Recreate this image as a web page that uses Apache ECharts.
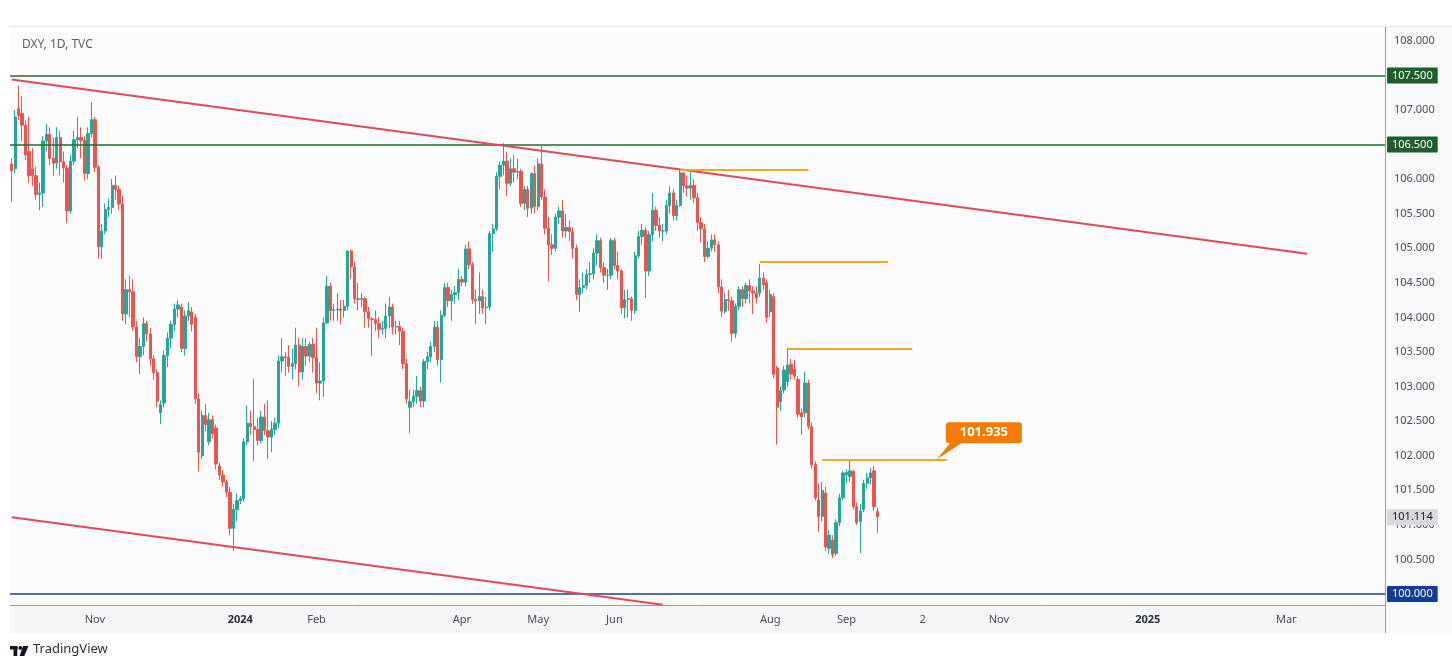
<!DOCTYPE html>
<html>
<head>
<meta charset="utf-8">
<script src="https://cdn.jsdelivr.net/npm/echarts@6/dist/echarts.min.js"></script>
<style>
html,body{margin:0;padding:0;background:#ffffff;}
#chart{width:1452px;height:669px;}
</style>
</head>
<body>
<div id="chart"></div>
<script>
// ---- DATA: daily candles [open, high, low, close] ----
const sep2023 = [[106.22,106.30,105.67,106.12]];
const oct2023 = [
[106.15,107.00,106.08,106.90],[107.02,107.35,106.85,106.92],[106.95,107.20,106.55,106.78],[106.78,106.85,106.28,106.35],
[106.40,106.90,105.95,106.05],[106.15,106.45,105.90,106.05],[106.05,106.18,105.70,105.78],[105.78,105.95,105.55,105.80],
[105.80,106.62,105.60,106.55],[106.55,106.80,106.40,106.65],[106.65,106.75,106.20,106.30],[106.30,106.60,106.05,106.23],
[106.23,106.75,106.15,106.60],[106.60,106.70,106.05,106.25],[106.25,106.40,105.95,106.16],[106.16,106.20,105.36,105.54],
[105.54,106.35,105.50,106.26],[106.26,106.70,106.20,106.57],[106.57,106.90,106.45,106.60],[106.60,106.75,106.30,106.56],
[106.56,106.62,105.98,106.08],[106.08,106.75,106.00,106.66]];
const nov2023 = [
[106.66,107.11,106.60,106.86],[106.86,106.90,106.10,106.17],[106.17,106.20,104.85,105.02],[105.02,105.35,104.84,105.25],
[105.25,105.65,105.20,105.56],[105.56,105.72,105.45,105.59],[105.59,106.00,105.50,105.91],[105.91,106.05,105.70,105.85],
[105.85,105.90,105.55,105.64],[105.64,105.76,103.95,104.05],[104.05,104.55,103.90,104.40],[104.40,104.60,104.00,104.37],
[104.37,104.55,103.80,103.86],[103.86,103.95,103.35,103.43],[103.43,103.70,103.18,103.58],[103.58,104.00,103.45,103.91],
[103.91,103.95,103.65,103.76],[103.76,103.85,103.30,103.40],[103.40,103.45,103.10,103.20],[103.20,103.25,102.70,102.79],
[102.62,102.80,102.46,102.74],[102.76,103.52,102.70,103.45]];
const dec2023 = [
[103.45,103.78,103.28,103.70],[103.70,103.95,103.55,103.90],[103.90,104.20,103.80,104.12],[104.12,104.25,104.00,104.18],
[104.15,104.20,103.50,103.55],[103.55,104.10,103.45,104.02],[104.02,104.22,103.95,104.10],[104.08,104.15,103.80,103.90],
[104.00,104.05,102.75,102.82],[102.82,102.90,101.77,102.05],[102.00,102.65,101.95,102.58],[102.58,102.75,102.35,102.45],
[102.20,102.62,102.15,102.52],[102.52,102.58,102.25,102.32],[102.40,102.45,101.80,101.88],[101.85,101.90,101.65,101.72],
[101.72,101.78,101.55,101.62],[101.62,101.65,101.40,101.47],[101.47,101.55,100.85,100.95],[100.95,101.30,100.62,101.22],
[101.22,101.45,101.05,101.35]];
const jan2024 = [
[101.35,101.42,101.30,101.38],[101.38,102.25,101.33,102.20],[102.20,102.73,102.15,102.47],[102.47,102.65,102.30,102.42],
[102.42,103.11,101.92,102.38],[102.38,102.55,102.15,102.22],[102.22,102.65,102.18,102.56],[102.56,102.75,102.30,102.36],
[102.36,102.80,101.95,102.27],[102.27,102.50,102.05,102.38],[102.38,102.55,102.30,102.47],[102.47,103.45,102.40,103.37],
[103.37,103.70,103.20,103.43],[103.43,103.50,103.15,103.42],[103.42,103.60,103.20,103.29],[103.29,103.55,103.10,103.33],
[103.33,103.85,103.25,103.60],[103.60,103.70,103.00,103.21],[103.21,103.70,103.10,103.58],[103.58,103.70,103.30,103.44],
[103.44,103.65,103.35,103.61],[103.61,103.70,103.20,103.42],[103.42,103.85,102.90,103.05]];
const feb2024 = [
[103.05,103.35,102.80,103.08],[103.08,104.00,102.85,103.92],[103.92,104.60,103.90,104.45],[104.45,104.50,103.95,104.10],
[104.10,104.20,103.95,104.11],[104.11,104.35,103.95,104.12],[104.12,104.25,103.90,104.10],[104.10,104.25,104.00,104.16],
[104.16,104.97,104.10,104.96],[104.96,104.98,104.55,104.73],[104.73,104.80,104.20,104.27],[104.27,104.50,104.10,104.26],
[104.26,104.35,104.15,104.27],[104.27,104.30,103.85,104.08],[104.08,104.15,103.85,103.98],[103.98,104.00,103.44,103.97],
[103.97,104.10,103.80,103.91],[103.91,104.00,103.70,103.83],[103.83,103.95,103.75,103.84],[103.84,104.20,103.70,104.02],
[104.02,104.30,103.85,104.15]];
const mar2024 = [
[104.15,104.20,103.75,103.86],[103.86,103.95,103.75,103.87],[103.87,103.95,103.60,103.80],[103.80,103.85,103.25,103.33],
[103.33,103.40,102.75,102.82],[102.70,102.95,102.33,102.78],[102.78,102.95,102.70,102.86],[102.86,103.15,102.75,102.94],
[102.94,103.00,102.70,102.79],[102.79,103.40,102.70,103.36],[103.36,103.50,103.25,103.43],[103.43,103.65,103.35,103.58],
[103.58,103.95,103.50,103.86],[103.86,103.95,103.30,103.39],[103.39,104.10,103.06,104.03],[104.03,104.50,104.00,104.43],
[104.43,104.50,104.15,104.24],[104.24,104.40,103.95,104.33],[104.33,104.45,104.20,104.36],[104.36,104.70,104.25,104.55],
[104.55,104.60,104.45,104.51]];
const apr2024 = [
[104.51,105.05,104.45,104.99],[104.99,105.10,104.70,104.76],[104.76,104.80,104.20,104.26],[104.26,104.40,103.90,104.24],
[104.24,104.65,104.05,104.30],[104.30,104.40,104.05,104.14],[104.14,104.30,103.90,104.15],[104.15,105.25,104.10,105.21],
[105.21,105.35,104.95,105.28],[105.28,106.10,105.25,106.04],[106.04,106.25,105.85,106.20],[106.20,106.52,106.05,106.26],
[106.26,106.40,105.75,105.94],[105.94,106.30,105.90,106.15],[106.15,106.35,105.95,106.10],[106.10,106.30,106.00,106.11],
[106.11,106.15,105.60,105.65],[105.65,105.90,105.55,105.85],[105.85,105.90,105.45,105.58],[105.58,106.10,105.50,106.08],
[106.08,106.20,105.50,105.60],[105.60,106.30,105.55,106.22]];
const may2024 = [
[106.22,106.49,105.70,105.74],[105.74,105.85,105.20,105.29],[105.29,105.45,104.52,105.05],[105.05,105.20,104.90,105.00],
[105.00,105.50,104.95,105.45],[105.45,105.60,105.35,105.54],[105.54,105.70,105.15,105.25],[105.25,105.50,105.15,105.30],
[105.30,105.40,105.10,105.24],[105.24,105.30,104.85,105.00],[105.00,105.05,104.25,104.33],[104.33,104.55,104.08,104.43],
[104.43,104.65,104.35,104.46],[104.46,104.70,104.40,104.62],[104.62,104.80,104.50,104.63],[104.63,105.00,104.55,104.93],
[104.93,105.20,104.75,105.11],[105.11,105.15,104.65,104.72],[104.72,104.80,104.50,104.61],[104.61,104.70,104.40,104.61],
[104.61,105.15,104.55,105.11],[105.11,105.15,104.70,104.75],[104.75,104.95,104.55,104.67]];
const jun2024 = [
[104.67,104.70,104.05,104.14],[104.14,104.40,103.99,104.26],[104.26,104.40,104.00,104.27],[104.27,104.30,103.95,104.10],
[104.10,104.95,104.05,104.89],[104.89,105.25,104.85,105.17],[105.17,105.35,105.05,105.26],[105.26,105.30,104.28,104.67],
[104.67,105.25,104.60,105.20],[105.20,105.80,105.10,105.55],[105.55,105.60,105.25,105.33],[105.33,105.45,105.15,105.25],
[105.25,105.35,105.10,105.25],[105.25,105.70,105.20,105.62],[105.62,105.90,105.50,105.80],[105.80,105.85,105.40,105.47],
[105.47,105.70,105.40,105.62],[105.62,106.13,105.60,106.09],[106.09,106.10,105.80,105.90],[105.90,106.05,105.75,105.87]];
const jul2024 = [
[105.87,106.10,105.70,105.91],[105.91,106.00,105.65,105.73],[105.73,105.80,105.25,105.37],[105.37,105.45,105.08,105.28],
[105.28,105.35,104.80,104.88],[104.88,105.10,104.85,105.00],[105.00,105.20,104.95,105.12],[105.12,105.20,104.95,105.05],
[105.05,105.10,104.35,104.44],[104.44,104.55,104.00,104.09],[104.09,104.35,104.05,104.26],[104.26,104.40,104.10,104.24],
[104.24,104.30,103.65,103.77],[103.77,104.20,103.70,104.16],[104.16,104.45,104.10,104.40],[104.40,104.45,104.15,104.27],
[104.27,104.50,104.20,104.46],[104.46,104.55,104.20,104.38],[104.38,104.45,104.05,104.35],[104.35,104.45,104.20,104.28],
[104.35,104.77,104.30,104.57],[104.57,104.65,104.40,104.47],[104.50,104.55,103.92,104.00]];
const aug2024 = [
[104.08,104.40,104.00,104.33],[104.30,104.35,103.12,103.17],[103.27,103.30,102.16,102.70],[102.78,103.00,102.65,102.94],
[102.95,103.30,102.90,103.24],[103.07,103.56,103.00,103.31],[103.32,103.40,103.10,103.18],[103.25,103.38,103.10,103.15],
[103.10,103.15,102.55,102.60],[102.62,102.68,102.30,102.56],[102.62,103.21,102.55,103.05],[103.05,103.10,102.38,102.42],
[102.42,102.48,101.82,101.87],[101.87,101.92,101.35,101.39],[101.36,101.60,100.90,101.12],[101.12,101.62,101.05,101.50],
[101.46,101.55,100.62,100.68],[100.66,100.92,100.58,100.85],[100.78,100.85,100.52,100.57],[100.59,101.08,100.55,101.03],
[101.03,101.45,100.98,101.39],[101.39,101.78,101.35,101.75]];
const sep2024 = [
[101.72,101.80,101.60,101.76],[101.70,101.935,101.62,101.78],[101.77,101.80,101.22,101.26],[101.26,101.32,101.00,101.03],
[101.05,101.30,100.59,101.20],[101.22,101.65,101.18,101.60],[101.60,101.75,101.52,101.68],[101.68,101.82,101.58,101.75],
[101.78,101.85,101.20,101.26],[101.19,101.25,100.88,101.114]];

const firstDate = '2023-09-29';
const totalSlots = 397;                 // traded days + empty future space
const yTicks = [100,100.5,101,101.5,102,102.5,103,103.5,104,104.5,105,105.5,106,106.5,107,107.5,108];
const xTickLabels = [[24,'Nov'],[66,'2024'],[88,'Feb'],[130,'Apr'],[152,'May'],[174,'Jun'],[219,'Aug'],[241,'Sep'],[263,'2'],[285,'Nov'],[328,'2025'],[368,'Mar']];
const greenLevels = [107.5, 106.5];
const blueLevel = 100.0;
const lastPrice = 101.114;
const upperTrend = [[0,107.44],[374,104.92]];
const lowerTrend = [[0,101.11],[188,99.845]];
const orangeLevels = [[193,230,106.13],[216,253,104.80],[224,260,103.54],[234,270,101.935]];
const callout = {index: 270, value: 101.935, text: '101.935'};
const title = 'DXY, 1D, TVC';

// ---- build ----
const ohlc = [].concat(sep2023, oct2023, nov2023, dec2023, jan2024, feb2024, mar2024, apr2024, may2024, jun2024, jul2024, aug2024, sep2024);
const categories = [];
{
  const d = new Date(firstDate + 'T00:00:00Z');
  while (categories.length < totalSlots) {
    const wd = d.getUTCDay();
    if (wd !== 0 && wd !== 6) categories.push(d.toISOString().slice(0, 10));
    d.setUTCDate(d.getUTCDate() + 1);
  }
}
const candleData = ohlc.map(r => [r[0], r[3], r[2], r[1]]);
const labelMap = {};
xTickLabels.forEach(([i, t]) => { labelMap[i] = t; });

const FONT = 'Noto Sans, Open Sans, sans-serif';
const UP = '#26a69a', DOWN = '#ef5350';

function levelLine(value, color, bg, fg, width) {
  return {
    yAxis: value,
    lineStyle: { color: color, width: width, type: 'solid' },
    label: {
      show: true, position: 'end', distance: 2, formatter: value.toFixed(3),
      backgroundColor: bg, color: fg, fontSize: 11, fontFamily: FONT,
      padding: [2, 5, 2, 5], lineHeight: 12, borderRadius: 1
    }
  };
}
const markData = [];
greenLevels.forEach(v => markData.push(levelLine(v, '#226b33', '#1d5e2a', '#ffffff', 1.6)));
markData.push(levelLine(blueLevel, '#1b3f96', '#133b96', '#ffffff', 1.6));
markData.push(levelLine(lastPrice, 'rgba(0,0,0,0)', '#d7d9dd', '#222222', 0));
markData.push([
  { coord: [categories[upperTrend[0][0]], upperTrend[0][1]], lineStyle: { color: '#e3485d', width: 2, type: 'solid' }, label: { show: false } },
  { coord: [categories[upperTrend[1][0]], upperTrend[1][1]] }
]);
markData.push([
  { coord: [categories[lowerTrend[0][0]], lowerTrend[0][1]], lineStyle: { color: '#e3485d', width: 2, type: 'solid' }, label: { show: false } },
  { coord: [categories[lowerTrend[1][0]], lowerTrend[1][1]] }
]);
orangeLevels.forEach(([a, b, v]) => {
  markData.push([
    { coord: [categories[a], v], lineStyle: { color: '#f2a623', width: 2, type: 'solid' }, label: { show: false } },
    { coord: [categories[b], v] }
  ]);
});

const chart = echarts.init(document.getElementById('chart'), null, { renderer: 'canvas' });
const GRID = { left: 10, right: 67, top: 27, bottom: 64 };
chart.setOption({
  animation: false,
  backgroundColor: '#ffffff',
  title: {
    text: title, left: 17, top: 34,
    textStyle: { fontSize: 12, fontWeight: 'normal', color: '#5d606b', fontFamily: FONT }
  },
  grid: Object.assign({ show: true, backgroundColor: '#fcfcfd', borderWidth: 0 }, GRID),
  xAxis: {
    type: 'category', data: categories, boundaryGap: true,
    axisLine: { show: true, lineStyle: { color: '#9a9da5', width: 1 } },
    axisTick: { show: false }, splitLine: { show: false },
    axisLabel: {
      interval: (i) => labelMap[i] !== undefined,
      formatter: (v, i) => {
        const t = labelMap[i];
        if (t === undefined) return '';
        return /^\d{4}$/.test(t) ? '{b|' + t + '}' : t;
      },
      color: '#4a4d55', fontSize: 11, fontFamily: FONT, margin: 9,
      rich: { b: { fontWeight: 'bold', color: '#2a2e39', fontSize: 11, fontFamily: FONT } }
    }
  },
  yAxis: {
    type: 'value', position: 'right', min: 99.84, max: 108.2,
    axisLine: { show: true, lineStyle: { color: '#9a9da5', width: 1 } },
    axisTick: { show: false }, splitLine: { show: false },
    axisLabel: {
      customValues: yTicks,
      formatter: v => v.toFixed(3),
      color: '#4a4d55', fontSize: 11, fontFamily: FONT, margin: 9
    }
  },
  series: [{
    type: 'candlestick',
    data: candleData,
    barWidth: 2.8,
    itemStyle: { color: UP, color0: DOWN, borderColor: UP, borderColor0: DOWN, borderWidth: 1 },
    markLine: { silent: true, symbol: ['none', 'none'], animation: false, data: markData }
  }]
});

// decorations: axis strips, footer, callout
const pt = chart.convertToPixel({ seriesIndex: 0 }, [categories[callout.index], callout.value]);
const W = 1452, H = 669;
const plotRight = W - GRID.right, plotBottom = H - GRID.bottom;
chart.setOption({
  graphic: [
    { type: 'rect', id: 'xstrip', z: -10, silent: true, shape: { x: GRID.left, y: plotBottom, width: plotRight - GRID.left, height: 28 }, style: { fill: '#f5f6f8' } },
    { type: 'rect', id: 'ystrip', z: -10, silent: true, shape: { x: plotRight, y: GRID.top, width: W - plotRight, height: plotBottom - GRID.top + 28 }, style: { fill: '#f8f9fa' } },
    { type: 'line', id: 'yext', z: 5, silent: true, shape: { x1: plotRight + 0.5, y1: plotBottom, x2: plotRight + 0.5, y2: plotBottom + 28 }, style: { stroke: '#9a9da5', lineWidth: 1 } },
    { type: 'line', id: 'topb', z: 5, silent: true, shape: { x1: GRID.left, y1: GRID.top - 0.5, x2: W, y2: GRID.top - 0.5 }, style: { stroke: '#e6e7ea', lineWidth: 1 } },
    // TradingView footer logo + text
    { type: 'rect', id: 'lg1', silent: true, shape: { x: 10, y: 646, width: 7.5, height: 3.5 }, style: { fill: '#131722' } },
    { type: 'rect', id: 'lg2', silent: true, shape: { x: 13.5, y: 646, width: 3.8, height: 10 }, style: { fill: '#131722' } },
    { type: 'circle', id: 'lg3', silent: true, shape: { cx: 20.3, cy: 647.9, r: 1.9 }, style: { fill: '#131722' } },
    { type: 'polygon', id: 'lg4', silent: true, shape: { points: [[23, 646], [28.5, 646], [24.2, 656], [19.6, 656]] }, style: { fill: '#131722' } },
    { type: 'text', id: 'tvtext', silent: true, left: 33, top: 643, style: { text: 'TradingView', fill: '#2a2e39', font: '13px ' + FONT } },
    // orange callout
    { type: 'polygon', id: 'cpoint', z: 20, silent: true, shape: { points: [[pt[0] - 10, pt[1] - 1], [pt[0] + 4, pt[1] - 18], [pt[0] + 16, pt[1] - 18]] }, style: { fill: '#f57c00' } },
    { type: 'rect', id: 'cbox', z: 20, silent: true, shape: { x: pt[0] - 1, y: pt[1] - 38, width: 76, height: 21, r: 3 }, style: { fill: '#f57c00' } },
    { type: 'text', id: 'ctext', z: 21, silent: true, style: { x: pt[0] + 37, y: pt[1] - 27.5, text: callout.text, fill: '#ffffff', font: 'bold 13px ' + FONT, align: 'center', verticalAlign: 'middle' } }
  ]
});
</script>
</body>
</html>
